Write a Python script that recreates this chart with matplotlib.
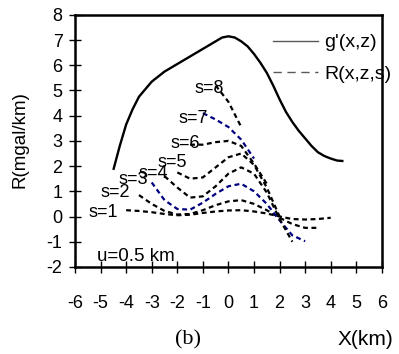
import numpy as np
import matplotlib
matplotlib.use("Agg")
from matplotlib import pyplot as plt
from matplotlib.lines import Line2D

plt.rcParams['font.family'] = ['Liberation Sans', 'DejaVu Sans']
plt.rcParams['axes.unicode_minus'] = False

# g'(x,z)
x_g = [-4.5, -4.25, -4.0, -3.75, -3.5, -3.25, -3.0, -2.5, -2.0, -1.5, -1.0, -0.5, -0.25,
       0.0, 0.25, 0.5, 0.75, 1.0, 1.25, 1.5, 1.75, 2.0, 2.25, 2.5, 2.75, 3.0, 3.25,
       3.5, 3.75, 4.0, 4.25, 4.5]
g_vals = [1.85, 2.8, 3.65, 4.25, 4.75, 5.05, 5.35, 5.75, 6.05, 6.35, 6.65, 6.95, 7.1,
          7.15, 7.1, 6.95, 6.75, 6.45, 6.1, 5.7, 5.2, 4.65, 4.15, 3.75, 3.4, 3.1, 2.8,
          2.55, 2.4, 2.3, 2.22, 2.2]

# R(x,z,s) on a 0.5 km grid, None where a curve is not defined
x_r = [-4.5, -4.0, -3.5, -3.0, -2.5, -2.0, -1.5, -1.0, -0.5, 0.0,
       0.5, 1.0, 1.5, 2.0, 2.5, 3.0, 3.5, 4.0, 4.5]
N = None
r_s1 = [N, 0.25, 0.22, 0.17, 0.1, 0.05, 0.07, 0.14, 0.2, 0.24, 0.25, 0.2, 0.12, 0.0, -0.1, -0.12, -0.1, -0.05, N]
r_s2 = [N, N, 0.85, 0.5, 0.22, 0.08, 0.1, 0.25, 0.45, 0.6, 0.65, 0.5, 0.25, -0.05, -0.3, -0.45, -0.45, N, N]
r_s3 = [N, N, N, 1.35, 0.65, 0.3, 0.27, 0.55, 0.9, 1.2, 1.3, 1.0, 0.5, -0.15, -0.75, -0.98, N, N, N]
r_s4 = [N, N, N, N, 1.6, 1.15, 0.75, 0.8, 1.2, 1.7, 1.95, 1.7, 0.95, -0.1, -1.0, N, N, N, N]
r_s5 = [N, N, N, N, N, 1.75, 1.5, 1.55, 1.95, 2.35, 2.5, 2.05, 1.15, 0.0, N, N, N, N, N]
r_s6 = [N, N, N, N, N, N, 2.85, 2.85, 2.95, 3.0, 2.8, 2.1, 1.3, N, N, N, N, N, N]
r_s7 = [N, N, N, N, N, N, N, 4.1, 3.85, 3.55, 3.05, 2.3, N, N, N, N, N, N, N]
r_s8 = [N, N, N, N, N, N, N, N, 5.2, 4.55, 3.55, N, N, N, N, N, N, N, N]

r_series = [r_s1, r_s2, r_s3, r_s4, r_s5, r_s6, r_s7, r_s8]
s_labels = ['s=1', 's=2', 's=3', 's=4', 's=5', 's=6', 's=7', 's=8']
r_colors = ['black', 'black', '#000080', 'black', 'black', 'black', '#000080', 'black']
# where each s label sits (left edge, vertical centre)
label_pos = [(-5.49, 0.17), (-5.02, 0.94), (-4.31, 1.45), (-3.53, 1.69),
             (-2.79, 2.15), (-2.28, 2.88), (-1.97, 3.87), (-1.31, 5.06)]

fig = plt.figure(figsize=(3.99, 3.54), dpi=100)
ax = fig.add_axes([0.188, 0.246, 0.769, 0.712])

ax.plot(x_g, g_vals, color='black', lw=1.7, solid_capstyle='butt')
for vals, col in zip(r_series, r_colors):
    ax.plot(x_r, np.array(vals, dtype=float), color=col, lw=1.6, dashes=(2.2, 1.6))

for txt, (tx, ty) in zip(s_labels, label_pos):
    ax.text(tx, ty, txt, ha='left', va='center', fontsize=13)

ax.text(-5.14, -1.6, 'u=0.5 km', ha='left', va='center', fontsize=13.5)

ax.set_xlim(-6, 6)
ax.set_ylim(-2, 8)
ax.set_xticks(range(-6, 7))
ax.set_yticks(range(-2, 9))
ax.tick_params(direction='inout', length=8, width=1, labelsize=13)
ax.tick_params(axis='x', pad=16)
ax.tick_params(axis='y', pad=5)
for sp in ax.spines.values():
    sp.set_linewidth(1.8)

handles = [Line2D([], [], color='0.35', lw=1),
           Line2D([], [], color='0.35', lw=1, dashes=(6, 4))]
ax.legend(handles, ["g'(x,z)", 'R(x,z,s)'], loc='upper left',
          bbox_to_anchor=(0.645, 0.925), frameon=False, fontsize=14,
          handlelength=2.3, handletextpad=0.35, borderpad=0, borderaxespad=0,
          labelspacing=0.7)

fig.text(0.05, 0.605, 'R(mgal/km)', rotation=90, ha='center', va='center', fontsize=13.5)
fig.text(0.915, 0.04, 'X(km)', ha='center', va='center', fontsize=15)
fig.text(0.47, 0.04, '(b)', ha='center', va='center', fontsize=16,
         family='Liberation Serif')

fig.savefig('out.png', dpi=100)
plt.close(fig)
